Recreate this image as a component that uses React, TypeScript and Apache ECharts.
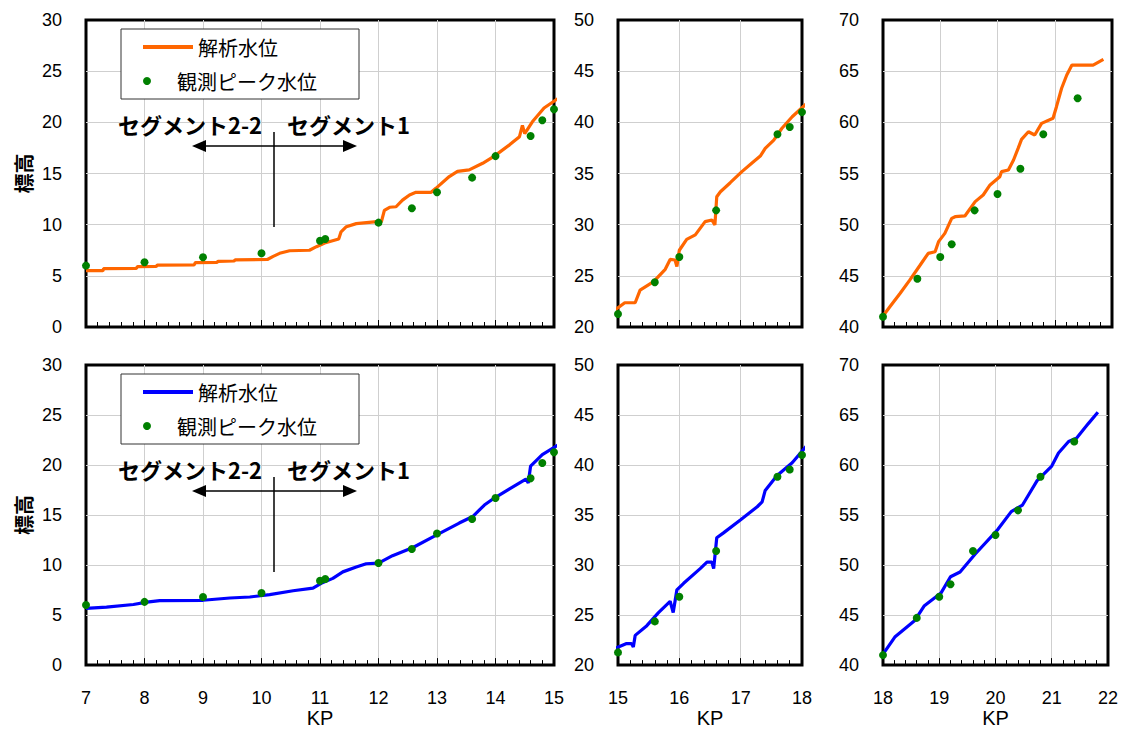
import React, { useEffect, useRef } from "react";
import * as echarts from "echarts";

// ---- data ----
const observedKP = [7.0, 8.0, 9.0, 10.0, 11.0, 11.09, 12.0, 12.57, 13.0, 13.6, 14.0, 14.6, 14.8, 15.0, 15.6, 16.0, 16.6, 17.6, 17.8, 18.0, 18.6, 19.0, 19.2, 19.6, 20.0, 20.4, 20.8, 21.4];
const observedLevel = [6.0, 6.32, 6.81, 7.2, 8.43, 8.6, 10.2, 11.6, 13.16, 14.6, 16.7, 18.67, 20.2, 21.27, 24.37, 26.84, 31.4, 38.83, 39.55, 41.0, 44.72, 46.84, 48.08, 51.4, 53.0, 55.47, 58.83, 62.35];

// analysis water level (orange, upper row)
const orangeSeg1: number[][] = [
  [7.0, 5.5], [7.29, 5.5], [7.3, 5.7], [7.86, 5.72], [7.88, 5.9], [8.2, 5.92], [8.22, 6.05], [8.85, 6.07], [8.87, 6.3],
  [9.24, 6.32], [9.26, 6.42], [9.53, 6.45], [9.55, 6.55], [10.1, 6.6], [10.2, 6.9], [10.31, 7.2], [10.48, 7.45],
  [10.82, 7.5], [10.94, 7.85], [11.08, 8.2], [11.32, 8.6], [11.36, 9.3], [11.45, 9.8], [11.62, 10.1], [11.97, 10.3],
  [12.05, 10.3], [12.1, 11.4], [12.19, 11.7], [12.3, 11.75], [12.41, 12.4], [12.53, 12.9], [12.64, 13.16], [12.9, 13.16],
  [12.98, 13.55], [13.21, 14.7], [13.35, 15.2], [13.55, 15.35], [13.78, 16.0], [13.98, 16.7], [14.24, 17.8], [14.41, 18.6],
  [14.46, 19.7], [14.5, 18.9], [14.63, 20.05], [14.83, 21.4], [15.06, 22.3],
];
const orangeSeg2: number[][] = [
  [14.95, 21.66], [15.11, 22.37], [15.28, 22.37], [15.36, 23.6], [15.58, 24.43], [15.77, 25.64], [15.85, 26.6], [15.93, 26.55],
  [15.96, 25.9], [16.0, 27.5], [16.12, 28.57], [16.26, 29.0], [16.42, 30.3], [16.53, 30.46], [16.58, 29.97], [16.61, 32.73],
  [16.67, 33.22], [16.83, 34.1], [17.02, 35.18], [17.18, 36.0], [17.32, 36.7], [17.4, 37.46], [17.54, 38.27], [17.67, 39.4],
  [17.84, 40.55], [18.08, 41.86],
];
const orangeSeg3: number[][] = [
  [17.97, 40.85], [18.12, 41.98], [18.3, 43.3], [18.47, 44.6], [18.65, 46.06], [18.79, 47.2], [18.91, 47.36], [18.97, 48.34],
  [19.08, 49.15], [19.2, 50.62], [19.26, 50.78], [19.43, 50.85], [19.61, 52.25], [19.75, 52.9], [19.87, 53.88], [20.04, 54.69],
  [20.07, 55.18], [20.19, 55.34], [20.28, 56.32], [20.36, 57.46], [20.42, 58.34], [20.54, 59.08], [20.65, 58.76], [20.77, 59.9],
  [20.97, 60.4], [21.03, 61.53], [21.12, 63.33], [21.21, 64.63], [21.3, 65.6], [21.67, 65.6], [21.85, 66.16],
];

// analysis water level (blue, lower row)
const blueSeg1: number[][] = [
  [7.0, 5.67], [7.35, 5.8], [7.81, 6.06], [8.04, 6.29], [8.26, 6.45], [9.0, 6.48], [9.46, 6.71], [9.8, 6.81], [10.14, 7.04],
  [10.54, 7.43], [10.88, 7.69], [11.02, 8.18], [11.22, 8.67], [11.39, 9.32], [11.62, 9.8], [11.79, 10.13], [12.0, 10.2],
  [12.24, 10.94], [12.59, 11.76], [12.98, 12.96], [13.38, 14.2], [13.61, 14.85], [13.81, 16.0], [13.98, 16.7], [14.24, 17.62],
  [14.52, 18.6], [14.56, 18.2], [14.6, 19.9], [14.8, 21.04], [15.07, 22.0],
];
const blueSeg2: number[][] = [
  [14.95, 21.66], [15.14, 22.15], [15.22, 22.15], [15.25, 21.8], [15.28, 22.97], [15.47, 23.94], [15.66, 25.25], [15.85, 26.38],
  [15.9, 25.25], [15.96, 27.52], [16.07, 28.18], [16.34, 29.64], [16.45, 30.29], [16.53, 30.29], [16.56, 29.64], [16.61, 32.73],
  [16.72, 33.22], [17.0, 34.53], [17.27, 35.83], [17.35, 36.32], [17.4, 37.46], [17.59, 38.93], [17.84, 40.23], [18.08, 41.96],
];
const blueSeg3: number[][] = [
  [17.97, 40.85], [18.21, 42.8], [18.56, 44.43], [18.73, 45.9], [18.88, 46.55], [19.03, 47.2], [19.2, 48.83], [19.37, 49.31],
  [19.64, 51.11], [20.04, 53.55], [20.28, 55.34], [20.48, 56.0], [20.6, 57.13], [20.74, 58.44], [21.0, 59.9], [21.12, 61.2],
  [21.3, 62.35], [21.44, 62.67], [21.65, 64.14], [21.82, 65.28],
];

const xRanges = [[7, 15], [15, 18], [18, 22]];
const yRanges = [[0, 30], [20, 50], [40, 70]];

const LINE_NAME = "解析水位";
const OBS_NAME = "観測ピーク水位";
const Y_NAME = "標高";
const X_NAME = "KP";
const SEG_LEFT = "セグメント2-2";
const SEG_RIGHT = "セグメント1";

// ---- layout ----
const panelLeft = [86, 618, 883];
const panelWidth = [468, 184, 229];
const rowTop = [20, 365];
const PANEL_H = 307;
const rowColor = ["#ff6600", "#0000ff"];
const rowLines = [[orangeSeg1, orangeSeg2, orangeSeg3], [blueSeg1, blueSeg2, blueSeg3]];

const NUM_FONT = "'Liberation Sans', Arial, sans-serif";
const JP_FONT = "'Noto Sans CJK JP', sans-serif";
const LINE_ICON = "path://M0,0L50,0L50,4L0,4Z";

export default function App() {
  const ref = useRef<HTMLDivElement>(null);

  useEffect(() => {
    if (!ref.current) return;
    const chart = echarts.init(ref.current, undefined, { renderer: "svg" });

    const grids: any[] = [];
    const xAxes: any[] = [];
    const yAxes: any[] = [];
    const series: any[] = [];
    const legends: any[] = [];
    const elements: any[] = [];

    rowTop.forEach((top, r) => {
      for (let p = 0; p < 3; p++) {
        const idx = r * 3 + p;
        grids.push({
          left: panelLeft[p],
          top,
          width: panelWidth[p],
          height: PANEL_H,
          show: true,
          borderColor: "#000",
          borderWidth: 3,
          backgroundColor: "transparent",
          containLabel: false,
        });
        xAxes.push({
          type: "value",
          gridIndex: idx,
          min: xRanges[p][0],
          max: xRanges[p][1],
          interval: 1,
          axisLine: { show: false },
          axisTick: { show: true, inside: true, length: 7, lineStyle: { color: "#000", width: 1 } },
          minorTick: { show: true, splitNumber: 5, length: 5, lineStyle: { color: "#000", width: 1 } },
          axisLabel: {
            show: r === 1,
            margin: 24,
            fontSize: 18,
            color: "#000",
            fontFamily: NUM_FONT,
          },
          splitLine: { show: true, showMinLine: false, showMaxLine: false, lineStyle: { color: "#cfcfcf", width: 1 } },
          name: r === 1 ? X_NAME : "",
          nameLocation: "middle",
          nameGap: 41,
          nameTextStyle: { fontSize: 20, color: "#000", fontFamily: NUM_FONT },
        });
        yAxes.push({
          type: "value",
          gridIndex: idx,
          min: yRanges[p][0],
          max: yRanges[p][1],
          interval: 5,
          axisLine: { show: false },
          axisTick: { show: false },
          axisLabel: { margin: 24, fontSize: 18, color: "#000", fontFamily: NUM_FONT },
          splitLine: { show: true, showMinLine: false, showMaxLine: false, lineStyle: { color: "#cfcfcf", width: 1 } },
          name: p === 0 ? Y_NAME : "",
          nameLocation: "middle",
          nameGap: 53,
          nameTextStyle: { fontSize: 20, fontWeight: "bold", color: "#000", fontFamily: JP_FONT },
        });
        series.push({
          name: LINE_NAME,
          type: "line",
          xAxisIndex: idx,
          yAxisIndex: idx,
          data: rowLines[r][p],
          symbol: "none",
          clip: false,
          lineStyle: { color: rowColor[r], width: 3.2 },
          itemStyle: { color: rowColor[r] },
          z: 3,
        });
        const obs: number[][] = [];
        observedKP.forEach((k, i) => {
          if (k >= xRanges[p][0] - 1e-9 && k <= xRanges[p][1] + 1e-9) obs.push([k, observedLevel[i]]);
        });
        series.push({
          name: OBS_NAME,
          type: "scatter",
          xAxisIndex: idx,
          yAxisIndex: idx,
          data: obs,
          symbol: "circle",
          symbolSize: 8,
          clip: false,
          itemStyle: { color: "#008000", opacity: 1 },
          z: 4,
        });
      }

      const dy = r === 0 ? 0 : 345;
      legends.push({
        left: 143,
        top: 37 + dy,
        orient: "vertical",
        padding: 0,
        itemWidth: 50,
        itemHeight: 20,
        selectedMode: false,
        z: 6,
        textStyle: { fontSize: 20, color: "#000", fontFamily: JP_FONT },
        data: [{ name: LINE_NAME, icon: LINE_ICON, itemStyle: { color: rowColor[r], borderWidth: 0 } }],
      });
      legends.push({
        left: 143,
        top: 71 + dy,
        orient: "vertical",
        padding: 0,
        itemWidth: 50,
        itemHeight: 8,
        selectedMode: false,
        z: 6,
        textStyle: { fontSize: 20, color: "#000", fontFamily: JP_FONT },
        data: [{ name: OBS_NAME, icon: "circle", itemStyle: { color: "#008000", opacity: 1 } }],
      });

      elements.push(
        {
          type: "rect",
          z: 5,
          shape: { x: 121, y: 29 + dy, width: 238, height: 70 },
          style: { fill: "#fff", stroke: "#333", lineWidth: 1 },
        },
        {
          type: "text",
          z: 5,
          x: 118,
          y: 124 + dy,
          style: { text: SEG_LEFT, fontSize: 22, fontWeight: "bold", fontFamily: JP_FONT, fill: "#000", verticalAlign: "middle", align: "left" },
        },
        {
          type: "text",
          z: 5,
          x: 287,
          y: 124 + dy,
          style: { text: SEG_RIGHT, fontSize: 22, fontWeight: "bold", fontFamily: JP_FONT, fill: "#000", verticalAlign: "middle", align: "left" },
        },
        {
          type: "line",
          z: 5,
          shape: { x1: 200, y1: 146 + dy, x2: 350, y2: 146 + dy },
          style: { stroke: "#000", lineWidth: 1.5 },
        },
        {
          type: "polygon",
          z: 5,
          shape: { points: [[192, 146 + dy], [206, 140 + dy], [206, 152 + dy]] },
          style: { fill: "#000" },
        },
        {
          type: "polygon",
          z: 5,
          shape: { points: [[357, 146 + dy], [343, 140 + dy], [343, 152 + dy]] },
          style: { fill: "#000" },
        },
        {
          type: "line",
          z: 5,
          shape: { x1: 274, y1: 132 + dy, x2: 274, y2: 227 + dy },
          style: { stroke: "#000", lineWidth: 1.5 },
        }
      );
    });

    chart.setOption({
      animation: false,
      backgroundColor: "#fff",
      grid: grids,
      xAxis: xAxes,
      yAxis: yAxes,
      legend: legends,
      series,
      graphic: { elements },
    });

    return () => chart.dispose();
  }, []);

  return <div ref={ref} style={{ width: 1121, height: 729, position: "absolute", left: 0, top: 0 }} />;
}
